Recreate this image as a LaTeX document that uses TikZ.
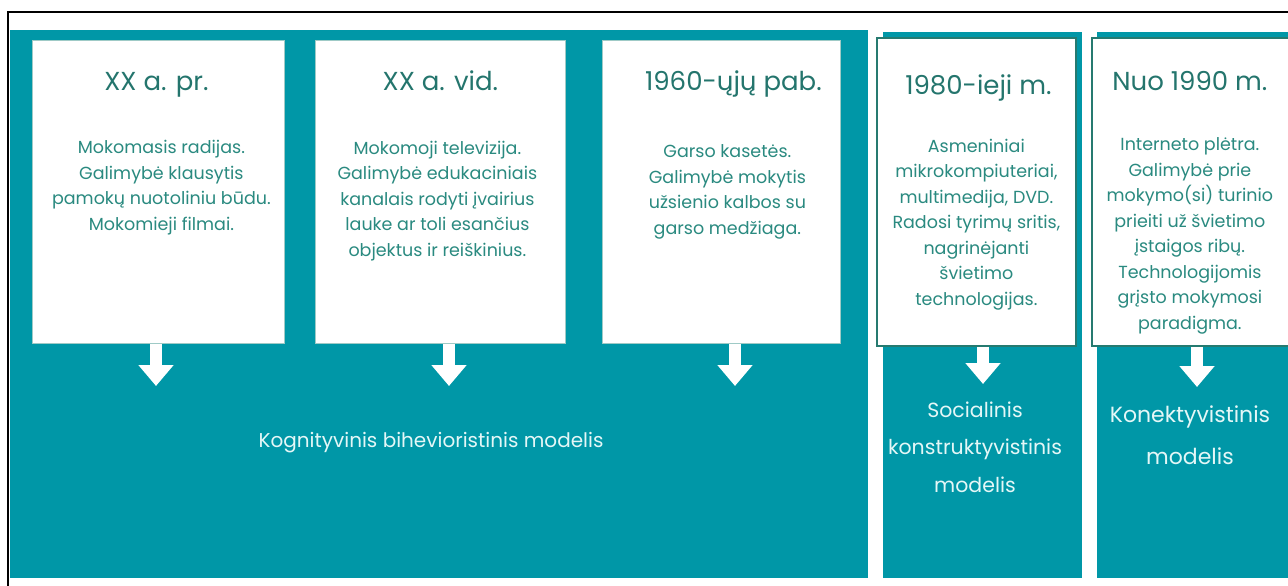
\documentclass[tikz,border=0pt]{standalone}
\usepackage{fontspec}
\setmainfont{Poppins}
\usetikzlibrary{arrows.meta}
\usetikzlibrary{positioning}
\definecolor{mteal}{RGB}{0,151,167}
\definecolor{mtext}{RGB}{42,138,128}
\definecolor{mdark}{RGB}{38,122,112}
\definecolor{mlight}{RGB}{228,247,247}
\tikzset{panel/.style = {fill=mteal, inner sep=0, anchor=north west}}
\tikzset{card/.style = {fill=white, draw=mtext!45, line width=0.8, inner sep=0, anchor=north west}}
\tikzset{cardB/.style = {card, draw=mdark, line width=1.8}}
\tikzset{yeartxt/.style = {text=mtext!85!black, inner sep=0, text height=18.5pt, text depth=0.5pt,
                           font=\fontsize{26}{30}\selectfont}}
\tikzset{bodytxt/.style = {text=mtext, align=center, inner sep=0, font=\fontsize{17.5}{25.5}\selectfont}}
\tikzset{modeltxt/.style = {text=mlight, align=center, inner sep=0}}
\tikzset{blockarrow/.style = {draw=white, line width=12, -{Triangle[width=34pt, length=21pt]}}}

\begin{document}
\begin{tikzpicture}[x=1pt, y=-1pt]
  \useasboundingbox (0,0) rectangle (1288,586);
  \draw [line width=2] (8,590) -- (8,12) -- (1292,12);

  % teal panels
  \node [panel, minimum width=858pt, minimum height=548pt] (p1) at (10,30) {};
  \node [panel, minimum width=199pt, minimum height=546pt] (p2) at (883,32) {};
  \node [panel, minimum width=198pt, minimum height=546pt] (p3) at (1097,32) {};

  % cards
  \node [card, minimum width=252pt, minimum height=303pt] (c1) at (32,40) {};
  \node [card, minimum width=250pt, minimum height=303pt] (c2) at (315,40) {};
  \node [card, minimum width=238pt, minimum height=303pt] (c3) at (602,40) {};
  \node [cardB, minimum width=199pt, minimum height=308pt] (c4) at (876,37) {};
  \node [cardB, minimum width=204pt, minimum height=308pt] (c5) at (1091,37) {};

  \node [yeartxt] (y1) at ([xshift=-2pt, yshift=-42pt]c1.north) {XX a. pr.};
  \node [yeartxt] (y2) at ([yshift=-42pt]c2.north) {XX a. vid.};
  \node [yeartxt] (y3) at ([xshift=12pt, yshift=-42pt]c3.north) {1960-ųjų pab.};
  \node [yeartxt] (y4) at ([xshift=2pt, yshift=-48pt]c4.north) {1980-ieji m.};
  \node [yeartxt] (y5) at ([xshift=-4pt, yshift=-45pt]c5.north) {Nuo 1990 m.};

  \node [bodytxt] (t1) at ([xshift=3pt, yshift=-147.5pt]c1.north)
    {Mokomasis radijas.\\Galimybė klausytis\\pamokų nuotoliniu būdu.\\Mokomieji filmai.};
  \node [bodytxt] (t2) at ([xshift=-3pt, yshift=-161pt]c2.north)
    {Mokomoji televizija.\\Galimybė edukaciniais\\kanalais rodyti įvairius\\lauke ar toli esančius\\objektus ir reiškinius.};
  \node [bodytxt] (t3) at ([xshift=6pt, yshift=-152pt]c3.north)
    {Garso kasetės.\\Galimybė mokytis\\užsienio kalbos su\\garso medžiaga.};
  \node [bodytxt] (t4) at ([yshift=-187.5pt]c4.north)
    {Asmeniniai\\mikrokompiuteriai,\\multimedija, DVD.\\Radosi tyrimų sritis,\\nagrinėjanti\\švietimo\\technologijas.};
  \node [bodytxt] (t5) at ([xshift=-4pt, yshift=-199pt]c5.north)
    {Interneto plėtra.\\Galimybė prie\\mokymo(si) turinio\\prieiti už švietimo\\įstaigos ribų.\\Technologijomis\\grįsto mokymosi\\paradigma.};

  % models
  \node [modeltxt, font=\fontsize{20}{24}\selectfont] (m1) at (431,443) {Kognityvinis bihevioristinis modelis};
  \node [modeltxt, font=\fontsize{20.5}{37.5}\selectfont] (m2) at (975,447) {Socialinis\\konstruktyvistinis\\modelis};
  \node [modeltxt, font=\fontsize{22}{42}\selectfont] (m3) at (1190,435) {Konektyvistinis\\modelis};

  % arrows
  \foreach \i/\x/\y in {1/156/386, 2/449/386, 3/735/386, 4/983/384, 5/1197/387} {
    \coordinate (e\i) at (\x,\y);
    \draw [blockarrow] (c\i.south -| e\i) -- (e\i);
  }
\end{tikzpicture}
\end{document}
